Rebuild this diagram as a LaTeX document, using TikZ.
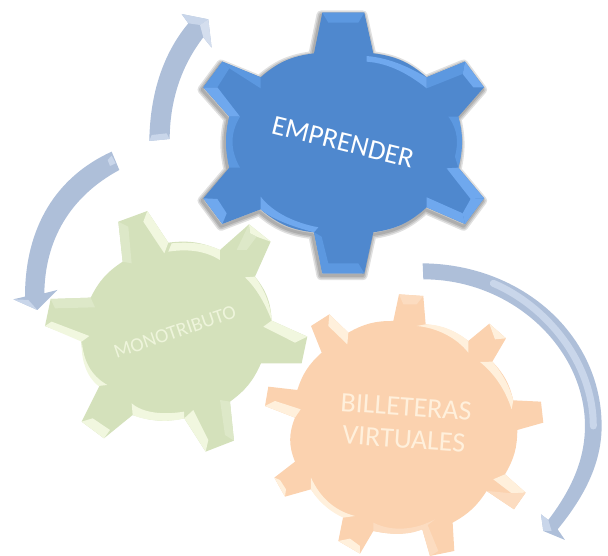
\documentclass[tikz,border=0pt]{standalone}
\usepackage{fontspec}
\setmainfont{Carlito}
\definecolor{gblue}{HTML}{4F88CE}
\definecolor{gbl}{HTML}{6FA8EE}
\definecolor{gbm}{HTML}{5C98E0}
\definecolor{ggreen}{HTML}{D4E1BB}
\definecolor{ggl}{HTML}{F1F7DF}
\definecolor{ggm}{HTML}{DDE8C8}
\definecolor{gor}{HTML}{FBD2AF}
\definecolor{gol}{HTML}{FFF0DC}
\definecolor{gom}{HTML}{FCDCC0}
\definecolor{arr}{HTML}{AEBFD9}
\definecolor{arl}{HTML}{C9D6EA}
\newcommand{\bluepath}{(397,38) -- (523,38) -- (550,160) to[bend left=17] (710,232) -- (825,185) -- (882,262) -- (805,350) to[bend left=12] (805,503) -- (882,595) -- (825,672) -- (710,622) to[bend left=17] (550,697) -- (523,820) -- (397,820) -- (372,697) to[bend left=17] (212,628) -- (97,672) -- (40,595) -- (118,503) to[bend left=12] (118,350) -- (40,262) -- (97,185) -- (212,232) to[bend left=17] (372,160) -- cycle}
\tikzset{
  zoomblue/.style={x=0.3333pt,y=-0.3333pt,shift={(190pt,0pt)}},
  zoomgreen/.style={x=0.3333pt,y=-0.3333pt,shift={(30pt,-200pt)}},
  zoomor/.style={x=0.3333pt,y=-0.3333pt,shift={(260pt,-256pt)}},
  zoomarr/.style={x=0.3333pt,y=-0.3333pt},
  label/.style={text=white,align=center,inner sep=0pt},
  facet/.style={draw=none}
}
\begin{document}
\begin{tikzpicture}[x=1pt,y=-1pt]
\useasboundingbox (0,0) rectangle (608,556);
% arrows
\begin{scope}[zoomarr]
\fill[arr] (448,423) .. controls (450,280) and (490,160) .. (565,70) -- (545,42) -- (625,58) -- (635,143) -- (610,112) .. controls (550,190) and (510,290) .. (509,417) -- cycle;
\fill[arl] (565,70) -- (545,42) -- (625,58) -- (600,75) -- cycle;
\fill[arl!80!white] (600,75) -- (625,58) -- (635,143) -- (610,112) -- cycle;
\fill[arl] (455,405) -- (500,400) -- (509,417) -- (448,423) -- cycle;
\fill[arr] (335,455) .. controls (170,530) and (75,680) .. (75,890) -- (40,898) -- (112,930) -- (172,870) -- (133,880) .. controls (135,720) and (210,590) .. (358,510) -- cycle;
\fill[arl] (40,898) -- (85,900) -- (112,930) -- cycle;
\fill[arl] (335,467) -- (347,490) -- (330,498) -- (323,480) -- cycle;
\end{scope}
\begin{scope}[zoomor]
\fill[arr] (488,22) .. controls (790,25) and (1025,240) .. (1025,510) .. controls (1025,620) and (975,720) .. (893,820) -- (915,852) -- (850,825) -- (843,775) -- (865,792) .. controls (935,700) and (975,610) .. (975,510) .. controls (975,280) and (760,70) .. (490,70) -- cycle;
\draw[arl,line width=7pt,line cap=round] (700,82) .. controls (860,150) and (1000,320) .. (1000,510);
\fill[arl] (843,775) -- (865,792) -- (875,825) -- (850,825) -- cycle;
\end{scope}
% green
\begin{scope}[zoomgreen]
\fill[ggreen] (265,65) -- (352,33) -- (415,128) to[bend left=15] (570,150) -- (657,73) -- (722,125) -- (675,230) to[bend left=18] (725,362) -- (832,410) -- (815,490) -- (693,490) to[bend left=15] (600,605) -- (612,722) -- (527,755) -- (463,655) to[bend left=15] (308,645) -- (222,715) -- (155,665) -- (210,555) to[bend left=18] (153,420) -- (45,378) -- (62,297) -- (182,293) to[bend left=15] (278,185) -- cycle;
\fill[ggl] (340,65) -- (352,33) -- (415,128) -- (403,160) -- cycle;
\fill[ggl] (657,73) -- (722,125) -- (680,110) -- (660,100) -- cycle;
\fill[ggm] (657,73) -- (660,100) -- (680,110) -- (650,150) -- (620,150) -- cycle;
\fill[ggl] (645,232) -- (675,230) .. controls (700,265) and (722,310) .. (725,362) .. controls (705,310) and (680,265) .. (645,232) -- cycle;
\fill[ggl] (425,130) .. controls (480,125) and (530,130) .. (570,150) -- (570,180) .. controls (530,155) and (480,145) .. (415,155) -- cycle;
\fill[ggl] (700,380) -- (725,362) -- (832,410) -- (795,428) -- cycle;
\fill[ggl] (45,378) -- (65,365) -- (178,408) -- (155,425) -- cycle;
\fill[ggm] (62,297) -- (182,293) -- (195,322) -- (75,325) -- cycle;
\fill[ggl] (155,420) .. controls (160,480) and (180,525) .. (232,555) -- (205,558) .. controls (170,530) and (152,480) .. (155,420) -- cycle;
\fill[ggl] (155,665) -- (188,655) -- (240,690) -- (222,715) -- cycle;
\fill[ggl] (305,610) .. controls (340,640) and (400,645) .. (462,635) -- (463,655) .. controls (410,670) and (340,660) .. (308,645) -- cycle;
\fill[ggl] (463,655) -- (490,630) -- (535,720) -- (527,755) -- cycle;
\fill[ggm] (570,600) -- (600,605) -- (612,722) -- (585,705) -- cycle;
\fill[ggm] (265,65) -- (295,80) -- (305,190) -- (278,185) -- cycle;
\end{scope}
% orange
\begin{scope}[zoomor]
\fill[gor] (417,115) -- (490,120) -- (497,205) to[bend left=15] (625,255) -- (688,203) -- (738,247) -- (697,317) to[bend left=15] (760,433) -- (843,437) -- (850,500) -- (772,522) to[bend left=15] (735,655) -- (797,710) -- (762,760) -- (680,705) to[bend left=14] (578,800) -- (583,885) -- (510,900) -- (487,820) to[bend left=14] (340,825) -- (300,893) -- (235,855) -- (250,780) to[bend left=14] (153,700) -- (75,722) -- (43,665) -- (105,617) to[bend left=22] (105,485) -- (15,450) -- (25,392) -- (112,402) to[bend left=15] (185,290) -- (153,210) -- (208,175) -- (265,230) to[bend left=15] (400,195) -- cycle;
\fill[gol] (688,203) -- (738,247) -- (705,250) -- cycle;
\fill[gom] (417,115) -- (490,120) -- (470,145) -- (430,145) -- cycle;
\fill[gol] (470,210) .. controls (530,215) and (590,245) .. (625,290) -- (625,255) .. controls (590,225) and (540,205) .. (497,205) -- cycle;
\fill[gol] (660,318) -- (697,317) .. controls (730,355) and (750,395) .. (760,433) -- (755,460) .. controls (735,400) and (705,355) .. (660,318) -- cycle;
\fill[gol] (15,450) -- (45,435) -- (122,460) -- (105,485) -- cycle;
\fill[gol] (208,175) -- (265,230) -- (262,265) -- (205,210) -- cycle;
\fill[gol] (153,665) .. controls (180,725) and (225,765) .. (285,780) -- (250,785) .. controls (205,765) and (170,730) .. (153,700) -- cycle;
\fill[gol] (735,655) -- (797,710) -- (755,712) -- (700,670) -- cycle;
\fill[gom] (797,710) -- (762,760) -- (680,705) -- (755,712) -- cycle;
\fill[gol] (43,665) -- (60,672) -- (78,700) -- (75,722) -- cycle;
\fill[gol] (235,855) -- (270,848) -- (300,870) -- (300,893) -- cycle;
\fill[gom] (487,820) -- (500,800) -- (535,885) -- (510,900) -- cycle;
\fill[gom] (340,800) .. controls (400,830) and (470,820) .. (525,790) -- (487,820) .. controls (440,840) and (390,835) .. (340,825) -- cycle;
\end{scope}
% blue
\begin{scope}[zoomblue]
\begin{scope}[shift={(-4,7)}]
\foreach \w in {9,6,3}{\draw[black,opacity=.12,line width=\w*1pt,line join=round] \bluepath;}
\end{scope}
\fill[gblue] \bluepath;
\fill[gbl] (40,262) -- (82,262) -- (150,350) -- (118,350) -- cycle;
\fill[gbm] (97,185) -- (118,205) -- (82,262) -- (40,262) -- cycle;
\fill[gbm] (97,185) -- (212,232) -- (212,265) -- (118,205) -- cycle;
\fill[gbm] (397,38) -- (523,38) -- (505,68) -- (415,68) -- cycle;
\fill[gbl] (825,185) -- (882,262) -- (850,262) -- (818,222) -- cycle;
\fill[gbm] (825,185) -- (818,222) -- (710,265) -- (710,232) -- cycle;
\fill[gbl] (805,503) -- (882,595) -- (842,597) -- (770,505) -- cycle;
\fill[gbl] (882,595) -- (825,672) -- (818,640) -- (842,597) -- cycle;
\fill[gbl] (710,592) -- (818,640) -- (825,672) -- (710,622) -- cycle;
\fill[gbl] (40,595) -- (82,597) -- (110,640) -- (97,672) -- cycle;
\fill[gbl] (530,168) .. controls (610,175) and (670,210) .. (710,232) -- (710,265) .. controls (660,225) and (600,190) .. (530,185) -- cycle;
\fill[gbl] (212,590) .. controls (250,640) and (320,670) .. (385,682) -- (372,697) .. controls (310,680) and (250,660) .. (212,628) -- cycle;
\fill[gbm] (805,350) .. controls (820,400) and (820,450) .. (805,503) -- (795,470) .. controls (805,430) and (805,390) .. (775,350) -- cycle;
\fill[gbm] (118,350) .. controls (105,400) and (105,450) .. (118,503) -- (150,503) .. controls (120,450) and (120,400) .. (150,350) -- cycle;
\fill[gbm] (397,820) -- (372,697) -- (395,710) -- (415,790) -- (505,790) -- (523,820) -- cycle;
\end{scope}
\node[label,font=\fontsize{28}{28}\selectfont,rotate=-14] (emprender) at (343,142) {EMPRENDER};
\node[label,font=\fontsize{20}{20}\selectfont,rotate=19,text=ggl,opacity=.9] (monotributo) at (175,332) {MONOTRIBUTO};
\node[label,font=\fontsize{28}{32}\selectfont,rotate=-4,text=gol] (billeteras) at (405,423) {BILLETERAS\\VIRTUALES};
\end{tikzpicture}
\end{document}
